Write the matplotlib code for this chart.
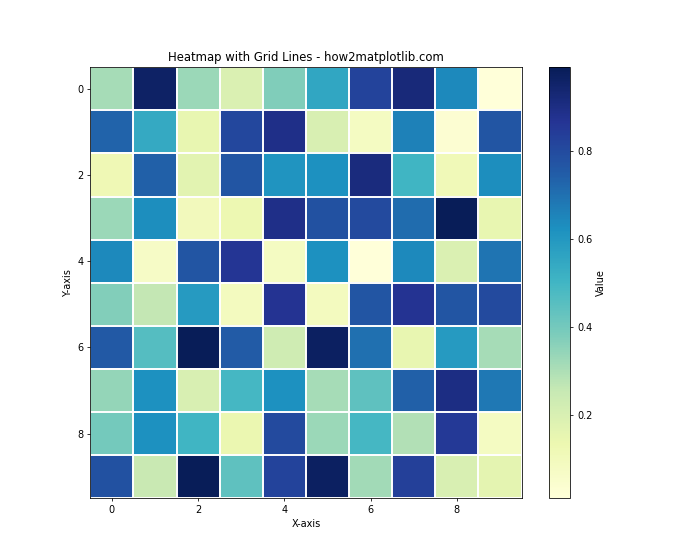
import numpy as np
import matplotlib.pyplot as plt

# cell values, one list per row
row0 = [0.31, 0.96, 0.33, 0.19, 0.375, 0.55, 0.82, 0.92, 0.64, 0.01]
row1 = [0.73, 0.54, 0.15, 0.81, 0.89, 0.20, 0.08, 0.66, 0.03, 0.77]
row2 = [0.12, 0.74, 0.17, 0.77, 0.61, 0.62, 0.91, 0.50, 0.11, 0.63]
row3 = [0.33, 0.63, 0.10, 0.13, 0.89, 0.78, 0.80, 0.71, 0.99, 0.15]
row4 = [0.64, 0.07, 0.77, 0.86, 0.08, 0.62, 0.01, 0.64, 0.19, 0.69]
row5 = [0.37, 0.26, 0.59, 0.09, 0.87, 0.09, 0.77, 0.87, 0.77, 0.80]
row6 = [0.76, 0.46, 0.99, 0.75, 0.23, 0.97, 0.70, 0.15, 0.59, 0.31]
row7 = [0.34, 0.62, 0.20, 0.49, 0.62, 0.31, 0.44, 0.74, 0.90, 0.68]
row8 = [0.40, 0.62, 0.50, 0.14, 0.80, 0.33, 0.49, 0.29, 0.85, 0.08]
row9 = [0.78, 0.25, 0.99, 0.44, 0.82, 0.97, 0.32, 0.83, 0.20, 0.16]

data = np.array([row0, row1, row2, row3, row4, row5, row6, row7, row8, row9])

fig, ax = plt.subplots(figsize=(10, 8), dpi=70)
im = ax.imshow(data, cmap='YlGnBu')
plt.colorbar(im, label='Value')

# white lines between the cells
ax.set_xticks(np.arange(-0.5, 10, 1), minor=True)
ax.set_yticks(np.arange(-0.5, 10, 1), minor=True)
ax.grid(which='minor', color='w', linestyle='-', linewidth=2)
ax.tick_params(which='minor', size=0)

ax.set_title('Heatmap with Grid Lines - how2matplotlib.com')
ax.set_xlabel('X-axis')
ax.set_ylabel('Y-axis')

plt.savefig('out.png')
